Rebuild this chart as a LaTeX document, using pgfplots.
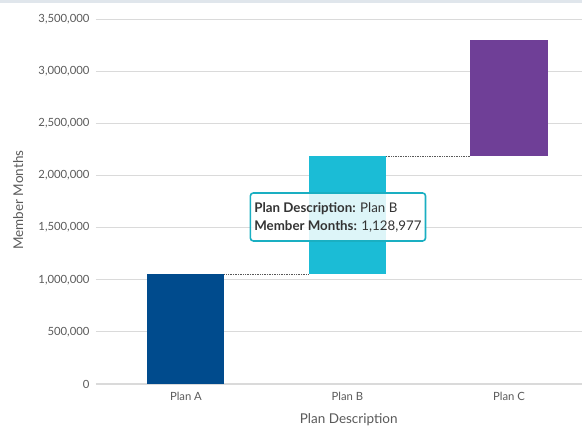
\documentclass[border=0pt]{standalone}
\usepackage{fontspec}
\setmainfont{Lato}
\usepackage{pgfplots}
\pgfplotsset{compat=1.18}
\usepackage{pgfplotstable}

\definecolor{planA}{HTML}{004B8D}
\definecolor{planB}{HTML}{1BBCD6}
\definecolor{planC}{HTML}{6F3F97}
\definecolor{gridgray}{HTML}{DADADA}
\definecolor{baseline}{HTML}{C9D4DF}
\definecolor{labelgray}{HTML}{5A5A5A}
\definecolor{tipborder}{HTML}{1AAFC2}
\definecolor{topband}{HTML}{E0E6EC}

% Waterfall: invisible base, then one visible step per plan
\pgfplotstableread{
x base      A        B        C
0 0         1055000  0        0
1 1055000   0        1128977  0
2 2183977   0        0        1115000
}\waterfall

\begin{document}
\begin{tikzpicture}[x=1pt,y=1pt]
\begin{axis}[
  at={(0,0)}, anchor=south west,
  scale only axis,
  width=486pt, height=365pt,
  ybar stacked,
  bar width=0.477,
  xmin=-0.557, xmax=2.452,
  ymin=0, ymax=3500000,
  ytick={500000,1000000,...,3500000},
  extra y ticks={0},
  extra y tick style={grid style={baseline, line width=1.5pt}},
  scaled y ticks=false,
  xtick={0,1,2},
  xticklabels={Plan A, Plan B, Plan C},
  ticklabel style={font=\fontsize{11.3}{13}\selectfont, text=labelgray},
  xticklabel style={yshift=-5pt},
  yticklabel style={xshift=-3pt, /pgf/number format/.cd, fixed, precision=0, 1000 sep={,}, assume math mode=true},
  major tick length=0pt,
  ymajorgrids,
  grid style={gridgray, line width=0.9pt},
  axis line style={draw=none},
  xlabel={Plan Description},
  ylabel={Member Months},
  label style={font=\fontsize{13.5}{15}\selectfont, text=labelgray},
  xlabel style={at={(axis description cs:0.52,-0.099)}, anchor=center},
  ylabel style={at={(axis description cs:-0.16,0.504)}, anchor=center},
  clip=false,
]
\addplot[draw=none, fill=none] table[x=x, y=base] {\waterfall};
\addplot[draw=none, fill=planA] table[x=x, y=A] {\waterfall};
\addplot[draw=none, fill=planB] table[x=x, y=B] {\waterfall};
\addplot[draw=none, fill=planC] table[x=x, y=C] {\waterfall};

% connectors between the steps
\addplot[sharp plot, stack plots=false, densely dotted, gray!70!black, line width=0.7pt]
  coordinates {(0.2385,1055000) (0.7615,1055000)};
\addplot[sharp plot, stack plots=false, densely dotted, gray!70!black, line width=0.7pt]
  coordinates {(1.2385,2183977) (1.7615,2183977)};

\coordinate (tip) at (axis cs:0.941,1601500);
\end{axis}
% hover tooltip for Plan B
\node[draw=tipborder, line width=1.6pt, rounded corners=3pt, fill=white, fill opacity=0.85,
      text opacity=1, minimum width=172pt, minimum height=48pt, align=left,
      font=\fontsize{13.3}{18}\selectfont, text=black!80, inner xsep=4pt]
  at (tip)
  {\textbf{Plan Description:} Plan B\\\textbf{Member Months:} 1,128,977};
\fill[topband] (-96,381) rectangle (486,384);
\pgfresetboundingbox
\useasboundingbox (-96,-43) rectangle (486,384);
\end{tikzpicture}
\end{document}
